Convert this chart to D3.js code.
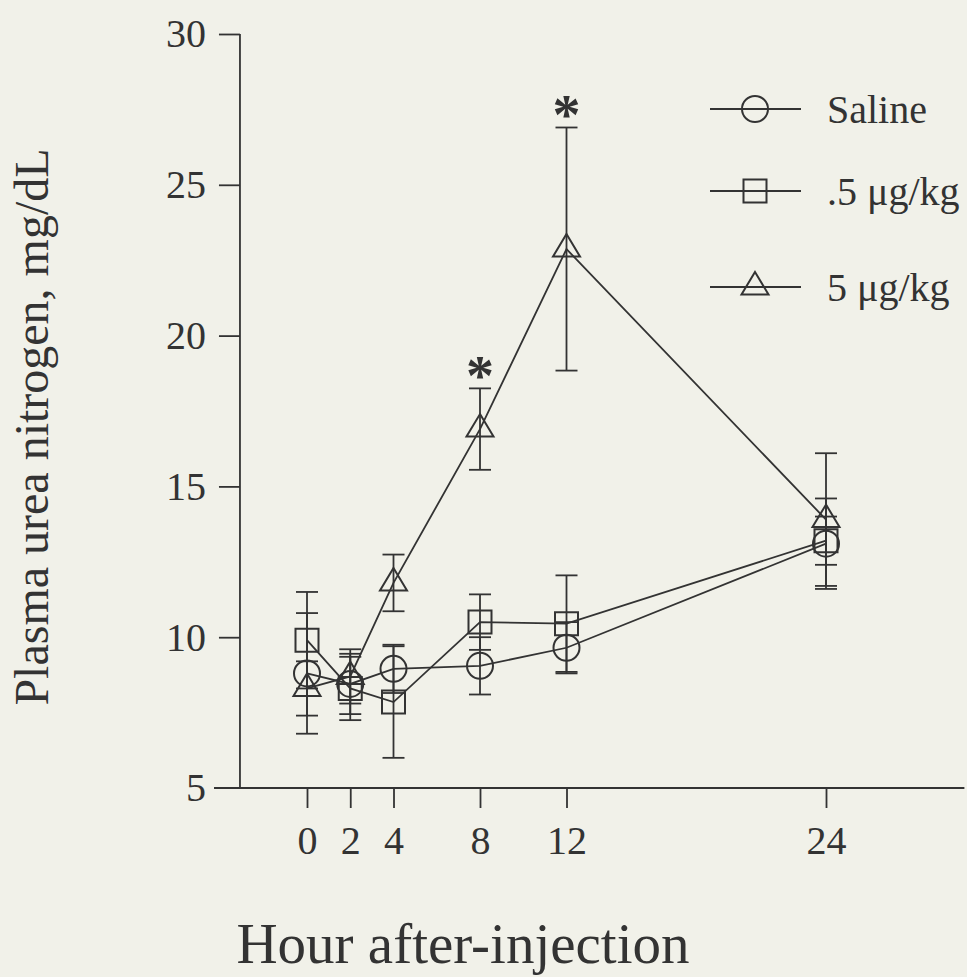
<!DOCTYPE html>
<html>
<head>
<meta charset="utf-8">
<script src="https://cdn.jsdelivr.net/npm/d3@7"></script>
<style>
  html, body { margin: 0; padding: 0; background: #f1f1e9; }
  svg { display: block; }
  text { font-family: "Liberation Serif", "Times New Roman", serif; fill: #333; }
</style>
</head>
<body>
<svg id="chart" width="967" height="977"></svg>
<script>
// ---- data ----
const hours = [0, 2, 4, 8, 12, 24];
const xTickLabels = ["0", "2", "4", "8", "12", "24"];
const yTicks = [5, 10, 15, 20, 25, 30];
const seriesNames = ["Saline", ".5 μg/kg", "5 μg/kg"];
const salineMean = [8.8, 8.45, 8.95, 9.05, 9.65, 13.1];
const salineErr  = [2.0, 1.0, 0.8, 0.95, 0.85, 1.5];
const lowMean    = [9.9, 8.3, 7.85, 10.5, 10.45, 13.2];
const lowErr     = [1.6, 1.05, 1.85, 0.92, 1.6, 0.8];
const highMean   = [8.3, 8.7, 11.8, 16.9, 22.87, 13.9];
const highErr    = [0.9, 0.9, 0.94, 1.35, 4.03, 2.2];
const significantHours = [8, 12];

const ink = "#333";
const sw = 1.8;
const svg = d3.select("#chart");

const x = d3.scaleLinear().domain([0, 24]).range([307, 826]);
const y = d3.scaleLinear().domain([5, 30]).range([788, 34]);
const axisX = x(-3.1);       // y axis position
const xLeft = x(-4.3);       // x axis starts a bit left of y axis
const xRight = x(30.4);

// y axis
const yAxis = svg.append("g").attr("transform", `translate(${axisX},0)`)
  .call(d3.axisLeft(y).tickValues(yTicks).tickSize(21).tickPadding(13).tickFormat(d3.format("d")));
yAxis.select(".domain").remove();
yAxis.append("line").attr("x1", 0).attr("x2", 0).attr("y1", y(30)).attr("y2", y(5))
  .attr("stroke", ink).attr("stroke-width", sw);
yAxis.selectAll(".tick line").attr("stroke", ink).attr("stroke-width", sw);
yAxis.selectAll(".tick").filter(d => d === 5).select("line").remove();
yAxis.selectAll(".tick text").attr("font-size", 40).attr("fill", ink)
  .attr("font-family", "Liberation Serif, serif");

// x axis
const xAxis = svg.append("g").attr("transform", `translate(0,${y(5)})`)
  .call(d3.axisBottom(x).tickValues(hours).tickSize(20).tickPadding(18)
    .tickFormat((d, i) => xTickLabels[i]));
xAxis.select(".domain").remove();
xAxis.append("line").attr("x1", xLeft).attr("x2", xRight).attr("y1", 0).attr("y2", 0)
  .attr("stroke", ink).attr("stroke-width", sw);
xAxis.selectAll(".tick line").attr("stroke", ink).attr("stroke-width", sw);
xAxis.selectAll(".tick text").attr("font-size", 40).attr("fill", ink)
  .attr("font-family", "Liberation Serif, serif");

// axis titles
svg.append("text").attr("x", 463).attr("y", 963).attr("text-anchor", "middle")
  .attr("font-size", 57).text("Hour after-injection");
svg.append("text").attr("transform", `translate(48,427) rotate(-90)`)
  .attr("text-anchor", "middle").attr("font-size", 48).text("Plasma urea nitrogen, mg/dL");

// markers
const circlePath = "M-13,0A13,13 0 1,0 13,0A13,13 0 1,0 -13,0Z";
const squarePath = "M-11.5,-11.5H11.5V11.5H-11.5Z";
const trianglePath = "M0,-15L13.5,7.5L-13.5,7.5Z";
const series = [
  { name: seriesNames[0], mean: salineMean, err: salineErr, shape: circlePath },
  { name: seriesNames[1], mean: lowMean, err: lowErr, shape: squarePath },
  { name: seriesNames[2], mean: highMean, err: highErr, shape: trianglePath }
];

const line = d3.line().x(d => x(d.h)).y(d => y(d.v));
series.forEach(s => {
  const pts = hours.map((h, i) => ({ h, v: s.mean[i], e: s.err[i] }));
  const g = svg.append("g");
  // error bars
  pts.forEach(p => {
    g.append("line").attr("x1", x(p.h)).attr("x2", x(p.h))
      .attr("y1", y(p.v + p.e)).attr("y2", y(p.v - p.e))
      .attr("stroke", ink).attr("stroke-width", sw);
    [p.v + p.e, p.v - p.e].forEach(v => {
      g.append("line").attr("x1", x(p.h) - 11).attr("x2", x(p.h) + 11)
        .attr("y1", y(v)).attr("y2", y(v)).attr("stroke", ink).attr("stroke-width", sw);
    });
  });
  g.append("path").datum(pts).attr("d", line).attr("fill", "none")
    .attr("stroke", ink).attr("stroke-width", sw);
  g.selectAll(".m").data(pts).enter().append("path")
    .attr("transform", p => `translate(${x(p.h)},${y(p.v)})`)
    .attr("d", s.shape).attr("fill", "none").attr("stroke", ink).attr("stroke-width", 2);
});

// significance asterisks
significantHours.forEach(h => {
  const i = hours.indexOf(h);
  svg.append("text").attr("x", x(h)).attr("y", y(highMean[i] + highErr[i]) + 7)
    .attr("text-anchor", "middle").attr("font-size", 56).attr("font-weight", "bold")
    .attr("font-family", "DejaVu Sans, sans-serif").text("*");
});

// legend
const legendY = [109, 191, 287];
series.forEach((s, i) => {
  const g = svg.append("g").attr("transform", `translate(755,${legendY[i]})`);
  g.append("line").attr("x1", -45).attr("x2", 46).attr("stroke", ink).attr("stroke-width", sw);
  g.append("path").attr("d", s.shape).attr("fill", "none").attr("stroke", ink).attr("stroke-width", 2);
  g.append("text").attr("x", 72).attr("y", 0).attr("dy", "0.35em")
    .attr("font-size", 40).text(s.name);
});
</script>
</body>
</html>
